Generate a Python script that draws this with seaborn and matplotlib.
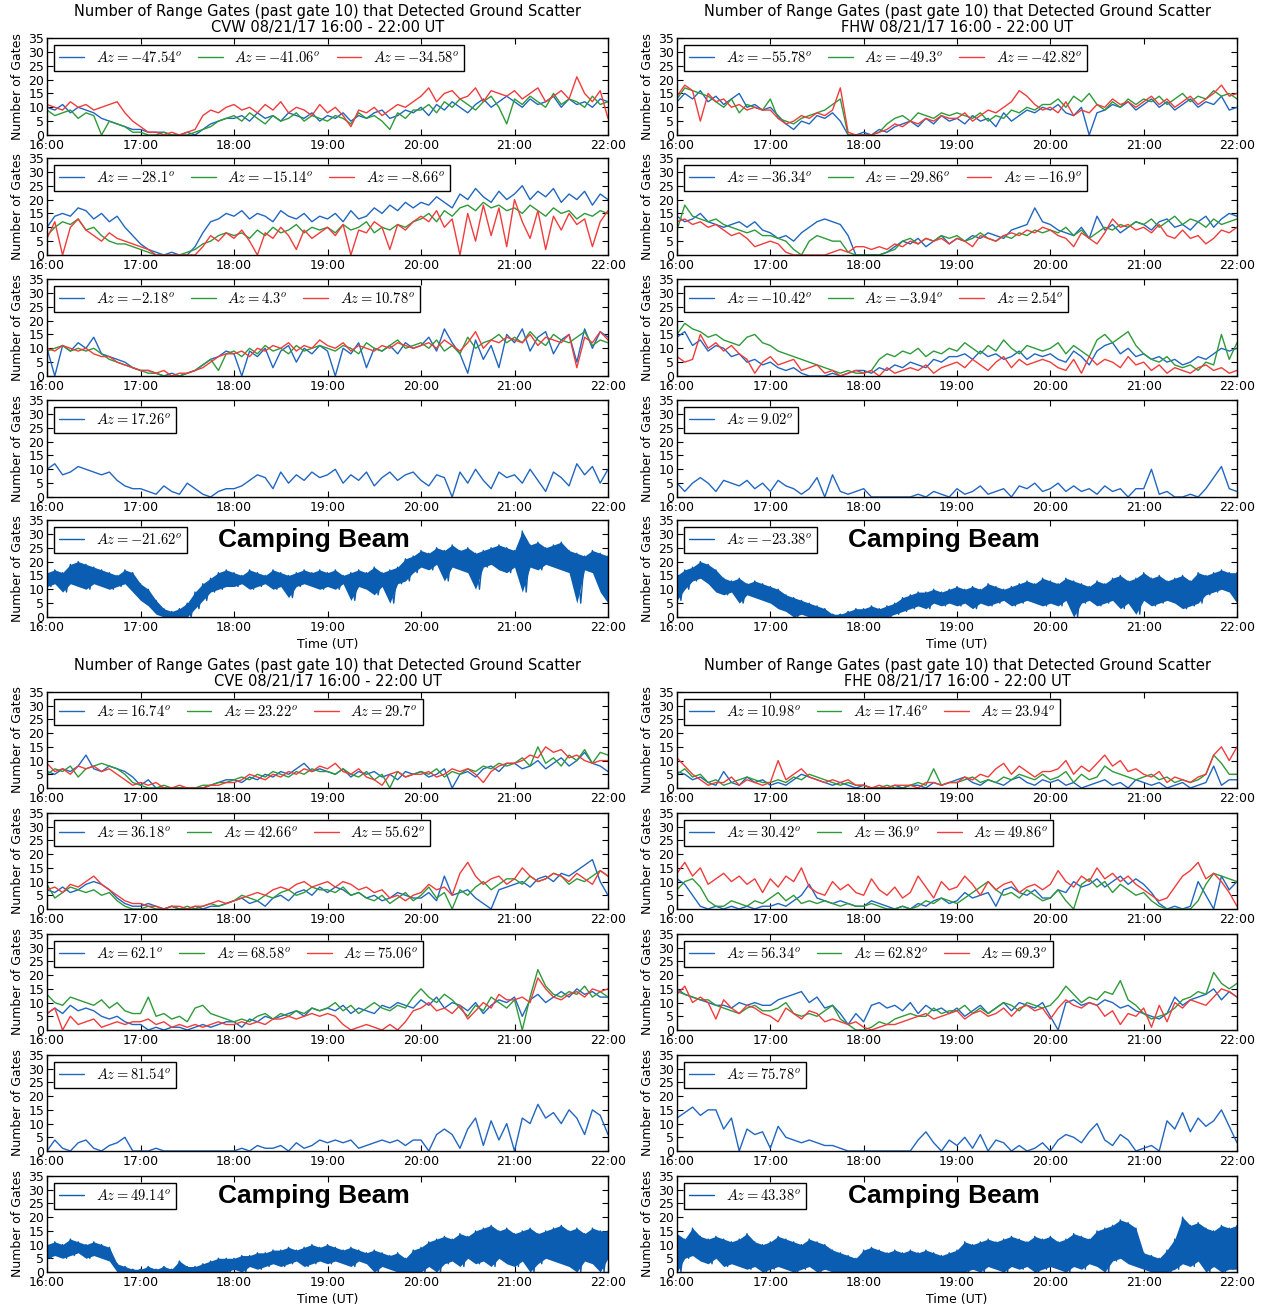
import numpy as np
import pandas as pd
import matplotlib
matplotlib.use('Agg')
import matplotlib.pyplot as plt
import matplotlib.dates as mdates
import seaborn as sns

# ---------------------------------------------------------------------------
# Data: number of gates per beam, every 5 minutes
# (16:00 ... 22:00, 73 samples; one line per hour + the 22:00 value)
# ---------------------------------------------------------------------------

# ---- CVW ----
cvw_az = [['-47.54', '-41.06', '-34.58'], ['-28.1', '-15.14', '-8.66'],
          ['-2.18', '4.3', '10.78'], ['17.26'], ['-21.62']]
cvw_r1_b = [10, 9, 11, 8, 10, 9, 8, 6, 5, 4, 3, 2,
            2, 1, 1, 1, 0, 0, 1, 0, 2, 4, 5, 6,
            6, 7, 5, 8, 6, 7, 5, 8, 7, 6, 8, 5,
            7, 6, 8, 5, 7, 6, 8, 9, 6, 7, 9, 8,
            10, 7, 11, 9, 12, 10, 8, 11, 13, 10, 12, 14,
            12, 10, 13, 11, 12, 14, 10, 13, 11, 12, 10, 13, 12]
cvw_r1_g = [9, 7, 8, 9, 6, 8, 7, 0, 5, 4, 3, 1,
            1, 0, 0, 1, 0, 0, 0, 1, 2, 3, 5, 6,
            7, 5, 8, 6, 4, 7, 5, 6, 8, 5, 7, 6,
            5, 7, 6, 4, 8, 6, 7, 5, 2, 8, 6, 9,
            9, 11, 8, 12, 10, 13, 11, 9, 12, 14, 10, 4,
            13, 11, 14, 12, 10, 15, 11, 13, 12, 10, 14, 11, 12]
cvw_r1_r = [11, 10, 9, 12, 10, 11, 9, 10, 11, 12, 8, 5,
            3, 1, 1, 0, 1, 0, 1, 2, 7, 9, 8, 10,
            11, 9, 10, 8, 11, 9, 12, 8, 10, 9, 7, 11,
            8, 10, 7, 3, 9, 8, 10, 7, 9, 11, 10, 12,
            14, 17, 12, 15, 16, 13, 14, 17, 12, 16, 15, 14,
            16, 13, 15, 17, 12, 14, 16, 13, 21, 15, 12, 16, 6]
cvw_r2_b = [10, 14, 15, 14, 17, 16, 13, 15, 12, 14, 10, 7,
            4, 2, 1, 0, 1, 0, 0, 3, 8, 12, 13, 15,
            14, 16, 13, 15, 14, 12, 16, 14, 13, 15, 12, 14,
            13, 15, 12, 16, 13, 14, 17, 15, 18, 16, 19, 17,
            19, 18, 21, 19, 17, 22, 20, 24, 21, 19, 23, 20,
            22, 25, 20, 23, 21, 24, 19, 22, 20, 23, 18, 22, 20]
cvw_r2_g = [7, 10, 12, 11, 13, 9, 10, 7, 5, 4, 4, 3,
            2, 1, 0, 0, 0, 0, 1, 2, 4, 5, 7, 8,
            7, 8, 6, 9, 7, 10, 8, 9, 11, 8, 10, 9,
            10, 8, 11, 9, 10, 12, 8, 10, 9, 11, 10, 12,
            13, 15, 12, 16, 14, 17, 18, 16, 19, 17, 18, 16,
            17, 15, 18, 16, 14, 17, 15, 16, 13, 15, 14, 16, 15]
cvw_r2_r = [6, 12, 0, 10, 13, 9, 7, 5, 8, 6, 5, 4,
            3, 2, 0, 0, 0, 0, 0, 0, 3, 7, 5, 8,
            6, 9, 5, 0, 8, 6, 10, 7, 2, 9, 6, 8,
            10, 7, 11, 0, 9, 8, 12, 10, 2, 11, 9, 12,
            14, 12, 16, 10, 13, 0, 15, 5, 18, 7, 17, 3,
            20, 12, 6, 16, 2, 14, 9, 15, 11, 13, 3, 12, 16]
cvw_r3_b = [10, 0, 11, 9, 12, 10, 14, 8, 7, 6, 5, 3,
            2, 2, 1, 0, 1, 0, 1, 2, 4, 6, 7, 9,
            8, 0, 9, 7, 10, 3, 9, 11, 5, 10, 8, 11,
            9, 0, 10, 8, 12, 3, 10, 9, 11, 8, 12, 10,
            11, 14, 9, 17, 12, 8, 1, 13, 6, 11, 3, 15,
            12, 17, 9, 14, 16, 8, 13, 15, 5, 17, 10, 16, 14]
cvw_r3_g = [9, 10, 11, 9, 10, 9, 10, 8, 6, 5, 4, 3,
            2, 1, 1, 0, 0, 0, 1, 2, 4, 6, 2, 8,
            9, 7, 10, 8, 11, 9, 10, 8, 11, 9, 10, 11,
            10, 9, 11, 10, 8, 12, 10, 9, 11, 13, 10, 11,
            12, 10, 13, 9, 11, 8, 14, 10, 12, 13, 15, 12,
            14, 12, 16, 13, 11, 15, 13, 12, 14, 16, 11, 13, 12]
cvw_r3_r = [10, 9, 11, 10, 9, 10, 8, 7, 7, 5, 4, 3,
            2, 2, 1, 2, 0, 1, 1, 2, 3, 5, 7, 8,
            8, 9, 7, 10, 9, 11, 10, 12, 9, 11, 10, 13,
            11, 10, 12, 9, 11, 10, 9, 11, 10, 12, 11, 10,
            11, 12, 10, 13, 11, 9, 12, 16, 10, 13, 12, 14,
            13, 12, 15, 11, 14, 13, 12, 15, 3, 14, 12, 16, 13]
cvw_r4_b = [10, 12, 8, 9, 11, 10, 9, 8, 9, 6, 4, 3,
            3, 2, 1, 4, 2, 1, 5, 3, 1, 0, 2, 3,
            3, 4, 6, 8, 7, 3, 9, 5, 8, 6, 9, 7,
            8, 10, 5, 8, 6, 9, 4, 7, 9, 6, 8, 9,
            6, 4, 8, 7, 0, 9, 5, 10, 6, 3, 9, 7,
            8, 5, 10, 6, 2, 9, 7, 4, 12, 8, 11, 5, 10]
cvw_camp_hi = [16, 17, 16, 19, 20, 19, 18, 17, 16, 15, 17, 16,
               12, 10, 6, 3, 2, 3, 5, 9, 12, 14, 16, 17,
               16, 15, 17, 16, 15, 17, 16, 15, 16, 17, 16, 17,
               16, 17, 15, 16, 17, 16, 18, 16, 17, 18, 21, 22,
               24, 23, 25, 24, 26, 24, 25, 23, 24, 25, 26, 25,
               24, 31, 26, 27, 25, 26, 27, 24, 23, 22, 24, 23, 22]
cvw_camp_lo = [11, 12, 9, 12, 11, 10, 12, 11, 10, 11, 12, 9,
               6, 4, 1, 0, 0, 0, 0, 3, 6, 9, 10, 11,
               11, 12, 10, 11, 12, 10, 11, 7, 11, 12, 11, 10,
               11, 10, 12, 6, 11, 10, 8, 11, 5, 12, 13, 16,
               18, 17, 19, 13, 18, 17, 16, 10, 18, 19, 17, 16,
               18, 9, 18, 17, 19, 18, 17, 16, 5, 17, 16, 9, 5]

# ---- FHW ----
fhw_az = [['-55.78', '-49.3', '-42.82'], ['-36.34', '-29.86', '-16.9'],
          ['-10.42', '-3.94', '2.54'], ['9.02'], ['-23.38']]
fhw_r1_b = [12, 15, 13, 16, 12, 14, 11, 13, 15, 10, 11, 9,
            10, 7, 4, 2, 5, 4, 7, 6, 8, 5, 0, 0,
            1, 0, 2, 1, 3, 4, 5, 3, 6, 4, 7, 5,
            6, 4, 7, 5, 6, 3, 8, 5, 7, 9, 8, 10,
            9, 11, 8, 7, 10, 0, 8, 9, 11, 10, 12, 9,
            11, 13, 10, 12, 9, 11, 13, 10, 12, 11, 14, 9, 10]
fhw_r1_g = [13, 17, 16, 15, 14, 12, 10, 13, 8, 11, 10, 9,
            13, 6, 5, 4, 6, 7, 8, 9, 11, 13, 0, 0,
            0, 0, 1, 4, 6, 7, 5, 8, 7, 6, 8, 7,
            8, 7, 6, 8, 5, 7, 6, 9, 8, 10, 9, 11,
            11, 13, 10, 14, 12, 15, 11, 9, 12, 10, 13, 11,
            13, 12, 14, 11, 13, 15, 12, 14, 13, 16, 14, 15, 13]
fhw_r1_r = [14, 18, 16, 5, 15, 12, 13, 10, 11, 9, 10, 9,
            9, 6, 4, 5, 7, 6, 8, 7, 9, 17, 1, 0,
            0, 0, 1, 2, 4, 3, 5, 4, 6, 5, 7, 6,
            6, 8, 5, 7, 9, 8, 10, 12, 16, 14, 11, 9,
            10, 8, 12, 7, 9, 8, 11, 10, 13, 11, 12, 10,
            12, 14, 11, 13, 10, 12, 14, 11, 13, 15, 18, 14, 15]
fhw_r2_b = [14, 12, 13, 15, 12, 11, 10, 11, 12, 10, 12, 9,
            8, 6, 7, 5, 8, 10, 12, 13, 12, 11, 7, 0,
            0, 0, 0, 1, 3, 5, 4, 6, 3, 5, 7, 4,
            6, 5, 7, 6, 8, 7, 6, 9, 10, 11, 17, 12,
            11, 9, 8, 7, 10, 6, 14, 9, 11, 8, 10, 12,
            11, 9, 12, 13, 10, 11, 9, 12, 14, 10, 13, 15, 14]
fhw_r2_g = [9, 18, 14, 13, 12, 13, 11, 10, 9, 8, 9, 7,
            7, 6, 5, 2, 0, 5, 7, 6, 5, 5, 1, 0,
            0, 0, 0, 1, 2, 5, 6, 4, 6, 5, 7, 6,
            7, 5, 6, 8, 6, 5, 7, 6, 8, 7, 9, 8,
            9, 8, 10, 7, 9, 6, 8, 10, 9, 11, 10, 12,
            11, 13, 10, 12, 14, 11, 13, 12, 10, 13, 11, 12, 13]
fhw_r2_r = [12, 13, 11, 12, 10, 11, 9, 7, 8, 6, 3, 4,
            5, 4, 1, 0, 0, 0, 0, 0, 1, 2, 1, 3,
            3, 2, 3, 2, 4, 3, 5, 4, 6, 5, 6, 4,
            6, 5, 3, 7, 6, 5, 7, 8, 7, 9, 8, 10,
            9, 7, 6, 3, 8, 6, 4, 8, 13, 10, 11, 9,
            10, 8, 11, 7, 6, 9, 6, 7, 4, 6, 9, 8, 10]
fhw_r3_b = [14, 16, 11, 13, 9, 11, 10, 7, 8, 5, 6, 4,
            5, 3, 2, 3, 1, 0, 0, 0, 1, 0, 1, 2,
            2, 1, 3, 2, 4, 3, 5, 4, 3, 6, 5, 7,
            7, 8, 6, 9, 7, 8, 6, 7, 9, 6, 8, 7,
            8, 6, 5, 9, 7, 4, 9, 11, 12, 8, 10, 7,
            8, 6, 7, 5, 6, 4, 5, 7, 6, 8, 10, 9, 10]
fhw_r3_g = [15, 19, 17, 16, 14, 15, 13, 12, 11, 14, 15, 12,
            11, 9, 8, 7, 6, 5, 4, 3, 2, 1, 2, 1,
            1, 2, 6, 8, 7, 9, 8, 10, 7, 9, 8, 10,
            9, 12, 10, 8, 11, 9, 13, 10, 8, 11, 10, 9,
            10, 12, 8, 11, 9, 7, 13, 15, 12, 14, 16, 11,
            8, 6, 5, 7, 4, 3, 4, 2, 5, 4, 15, 6, 12]
fhw_r3_r = [7, 5, 6, 15, 10, 12, 9, 11, 8, 6, 1, 5,
            7, 4, 5, 6, 2, 3, 4, 1, 2, 0, 1, 2,
            1, 2, 0, 3, 1, 2, 3, 2, 4, 1, 3, 4,
            5, 3, 6, 4, 2, 5, 7, 3, 6, 4, 5, 6,
            5, 3, 2, 6, 1, 7, 4, 6, 5, 3, 7, 4,
            5, 2, 4, 1, 3, 2, 1, 3, 4, 2, 3, 1, 2]
fhw_r4_b = [5, 2, 5, 7, 5, 2, 6, 5, 4, 6, 3, 5,
            2, 6, 4, 3, 1, 3, 7, 0, 8, 2, 1, 2,
            3, 0, 0, 0, 0, 0, 0, 1, 0, 2, 1, 0,
            3, 1, 2, 4, 1, 2, 3, 0, 4, 3, 5, 2,
            3, 5, 2, 4, 2, 3, 1, 4, 2, 3, 0, 3,
            3, 10, 1, 2, 0, 0, 1, 0, 3, 7, 11, 3, 2]
fhw_camp_hi = [15, 17, 18, 20, 19, 17, 14, 13, 14, 12, 13, 12,
               11, 10, 8, 7, 6, 5, 4, 3, 1, 1, 2, 3,
               3, 4, 3, 4, 5, 7, 8, 9, 9, 10, 9, 10,
               11, 10, 11, 10, 12, 11, 10, 11, 12, 13, 12, 14,
               13, 12, 14, 13, 12, 11, 13, 12, 14, 15, 13, 14,
               16, 14, 15, 13, 14, 15, 13, 16, 15, 16, 17, 16, 16]
fhw_camp_lo = [6, 10, 13, 14, 12, 9, 8, 9, 5, 8, 7, 6,
               5, 3, 2, 0, 1, 0, 0, 0, 0, 0, 0, 0,
               0, 0, 0, 0, 1, 2, 3, 4, 3, 5, 4, 5,
               4, 5, 3, 5, 4, 5, 6, 4, 5, 6, 5, 4,
               5, 4, 6, 0, 5, 6, 4, 5, 6, 3, 5, 1,
               6, 4, 5, 6, 5, 3, 4, 5, 8, 9, 10, 9, 5]

# ---- CVE ----
cve_az = [['16.74', '23.22', '29.7'], ['36.18', '42.66', '55.62'],
          ['62.1', '68.58', '75.06'], ['81.54'], ['49.14']]
cve_r1_b = [6, 5, 7, 6, 8, 12, 7, 6, 8, 7, 6, 4,
            1, 3, 0, 0, 0, 0, 0, 0, 0, 1, 2, 3,
            3, 2, 4, 3, 5, 4, 6, 5, 7, 9, 6, 7,
            6, 5, 7, 4, 6, 5, 6, 4, 5, 3, 6, 5,
            6, 4, 5, 7, 0, 5, 6, 4, 7, 8, 6, 9,
            9, 7, 8, 10, 7, 9, 11, 8, 10, 13, 9, 8, 6]
cve_r1_g = [5, 7, 6, 8, 4, 7, 8, 9, 8, 7, 5, 2,
            1, 0, 0, 1, 0, 0, 0, 0, 1, 1, 2, 2,
            3, 4, 3, 5, 4, 6, 5, 4, 6, 5, 7, 6,
            6, 5, 7, 5, 4, 6, 3, 5, 0, 6, 4, 5,
            6, 5, 7, 4, 6, 5, 7, 6, 8, 7, 9, 8,
            9, 11, 8, 15, 9, 11, 8, 12, 10, 14, 9, 13, 12]
cve_r1_r = [9, 6, 7, 5, 8, 7, 8, 6, 7, 5, 3, 1,
            2, 1, 2, 0, 0, 1, 0, 0, 0, 1, 1, 2,
            2, 3, 5, 4, 3, 5, 4, 6, 5, 7, 6, 8,
            7, 9, 6, 5, 7, 4, 3, 1, 5, 6, 4, 5,
            5, 6, 4, 5, 7, 6, 7, 5, 2, 6, 8, 9,
            9, 10, 12, 11, 15, 13, 14, 11, 12, 10, 9, 10, 10]
cve_r2_b = [7, 6, 8, 6, 7, 9, 10, 9, 7, 4, 2, 1,
            1, 2, 1, 0, 1, 0, 0, 1, 0, 1, 1, 2,
            3, 4, 2, 3, 1, 4, 5, 3, 6, 7, 5, 8,
            6, 8, 7, 5, 6, 4, 5, 3, 4, 6, 5, 4,
            4, 6, 3, 12, 5, 6, 7, 4, 2, 0, 7, 8,
            9, 10, 8, 11, 12, 10, 13, 12, 14, 16, 18, 10, 5]
cve_r2_g = [9, 4, 6, 8, 7, 6, 7, 5, 6, 3, 1, 0,
            0, 1, 0, 0, 1, 0, 1, 0, 1, 2, 1, 2,
            3, 5, 4, 3, 5, 4, 6, 7, 5, 6, 8, 7,
            7, 6, 8, 5, 6, 4, 3, 5, 2, 4, 6, 3,
            5, 8, 4, 6, 0, 7, 5, 8, 10, 7, 9, 11,
            11, 9, 12, 10, 11, 13, 12, 9, 11, 10, 12, 14, 12]
cve_r2_r = [7, 8, 6, 9, 8, 10, 12, 9, 7, 5, 3, 2,
            2, 1, 1, 0, 1, 1, 0, 1, 1, 2, 3, 2,
            3, 4, 5, 6, 5, 7, 8, 7, 9, 10, 8, 9,
            10, 8, 10, 9, 7, 8, 6, 7, 4, 5, 3, 5,
            6, 9, 7, 8, 5, 13, 17, 12, 9, 11, 12, 9,
            11, 15, 12, 10, 11, 13, 12, 10, 13, 11, 9, 14, 12]
cve_r3_b = [6, 8, 6, 9, 7, 8, 7, 5, 4, 5, 3, 2,
            2, 0, 1, 0, 1, 1, 0, 1, 2, 1, 2, 3,
            3, 1, 4, 3, 5, 4, 5, 6, 7, 5, 8, 7,
            8, 7, 9, 6, 8, 7, 6, 9, 8, 10, 9, 8,
            11, 9, 12, 8, 10, 9, 7, 10, 6, 9, 11, 10,
            12, 5, 11, 13, 10, 12, 14, 12, 15, 13, 14, 12, 12]
cve_r3_g = [13, 10, 9, 12, 11, 10, 9, 11, 8, 10, 7, 6,
            6, 12, 5, 6, 4, 5, 3, 8, 9, 6, 5, 4,
            3, 4, 3, 5, 6, 4, 6, 5, 7, 6, 8, 7,
            8, 10, 7, 9, 6, 8, 10, 8, 7, 9, 8, 12,
            15, 12, 10, 13, 11, 8, 5, 9, 7, 12, 10, 8,
            11, 0, 12, 22, 16, 13, 12, 14, 13, 16, 12, 14, 12]
cve_r3_r = [6, 8, 0, 5, 2, 3, 4, 1, 2, 3, 2, 3,
            3, 4, 2, 3, 1, 2, 1, 2, 1, 2, 3, 2,
            2, 3, 2, 3, 2, 4, 4, 5, 4, 5, 6, 5,
            6, 5, 2, 0, 1, 2, 1, 0, 2, 0, 3, 7,
            8, 10, 7, 8, 6, 9, 4, 7, 10, 8, 13, 11,
            11, 12, 10, 19, 15, 12, 11, 13, 14, 12, 15, 14, 15]
cve_r4_b = [0, 4, 1, 0, 3, 4, 1, 0, 2, 3, 5, 0,
            0, 0, 1, 0, 0, 0, 0, 0, 0, 0, 0, 0,
            0, 1, 0, 2, 1, 1, 2, 0, 3, 1, 2, 4,
            3, 4, 3, 4, 1, 2, 3, 4, 3, 4, 2, 4,
            4, 0, 6, 8, 6, 1, 8, 12, 2, 11, 4, 10,
            0, 12, 10, 17, 12, 14, 10, 15, 12, 6, 15, 13, 6]
cve_camp_hi = [10, 11, 10, 12, 11, 10, 11, 10, 9, 3, 2, 1,
               1, 2, 1, 2, 1, 4, 2, 2, 3, 4, 5, 5,
               5, 6, 6, 7, 7, 8, 8, 9, 8, 9, 10, 9,
               10, 9, 8, 9, 8, 7, 8, 7, 6, 7, 5, 8,
               9, 11, 12, 13, 12, 14, 13, 15, 16, 17, 15, 16,
               14, 15, 16, 14, 15, 16, 17, 15, 16, 14, 16, 15, 15]
cve_camp_lo = [5, 6, 5, 6, 7, 5, 6, 5, 4, 0, 0, 0,
               0, 0, 0, 0, 0, 0, 0, 0, 0, 0, 0, 0,
               1, 0, 2, 1, 2, 3, 2, 3, 4, 2, 3, 4,
               3, 4, 3, 2, 4, 3, 0, 2, 1, 0, 0, 0,
               0, 2, 0, 3, 4, 2, 5, 3, 4, 2, 5, 3,
               2, 4, 0, 3, 5, 4, 3, 2, 0, 4, 3, 0, 5]

# ---- FHE ----
fhe_az = [['10.98', '17.46', '23.94'], ['30.42', '36.9', '49.86'],
          ['56.34', '62.82', '69.3'], ['75.78'], ['43.38']]
fhe_r1_b = [6, 5, 3, 4, 2, 1, 6, 2, 1, 4, 2, 3,
            1, 2, 1, 3, 5, 4, 3, 2, 1, 2, 1, 0,
            1, 0, 0, 0, 1, 0, 1, 1, 0, 2, 1, 2,
            3, 4, 2, 1, 3, 2, 1, 3, 4, 2, 1, 3,
            2, 3, 1, 2, 0, 1, 2, 3, 1, 2, 0, 3,
            2, 1, 2, 0, 1, 2, 0, 1, 2, 8, 1, 3, 3]
fhe_r1_g = [5, 7, 4, 5, 2, 3, 1, 2, 3, 4, 3, 2,
            2, 3, 2, 4, 3, 5, 4, 3, 2, 1, 2, 1,
            1, 0, 0, 1, 0, 0, 1, 2, 1, 7, 1, 2,
            2, 3, 4, 2, 3, 2, 4, 3, 5, 4, 3, 5,
            3, 4, 6, 2, 5, 3, 4, 8, 6, 5, 4, 3,
            4, 5, 3, 4, 2, 3, 2, 3, 5, 12, 9, 5, 5]
fhe_r1_r = [11, 8, 5, 3, 1, 2, 2, 4, 1, 3, 2, 1,
            2, 10, 3, 5, 7, 4, 3, 2, 3, 2, 3, 1,
            1, 0, 1, 0, 1, 1, 1, 0, 2, 2, 1, 2,
            2, 4, 3, 5, 4, 7, 9, 5, 8, 6, 4, 6,
            6, 7, 10, 5, 8, 6, 9, 12, 8, 10, 6, 7,
            5, 4, 6, 2, 4, 3, 2, 4, 5, 12, 15, 10, 15]
fhe_r2_b = [11, 9, 5, 1, 0, 1, 0, 1, 0, 1, 0, 1,
            1, 2, 1, 3, 5, 9, 4, 3, 2, 3, 2, 1,
            1, 3, 2, 1, 0, 1, 0, 2, 1, 3, 4, 2,
            3, 6, 4, 5, 6, 1, 7, 8, 6, 5, 7, 4,
            4, 7, 6, 10, 8, 9, 11, 8, 10, 12, 9, 11,
            9, 6, 2, 0, 1, 0, 1, 10, 5, 0, 12, 7, 10]
fhe_r2_g = [7, 10, 11, 8, 3, 1, 1, 3, 2, 1, 3, 2,
            4, 6, 3, 5, 2, 3, 2, 3, 2, 1, 2, 1,
            1, 2, 1, 0, 0, 1, 0, 1, 3, 2, 4, 3,
            2, 4, 6, 8, 10, 7, 5, 6, 4, 7, 5, 3,
            4, 7, 3, 0, 9, 11, 8, 10, 6, 9, 7, 5,
            6, 3, 1, 0, 0, 0, 0, 3, 9, 13, 12, 11, 10]
fhe_r2_r = [13, 17, 12, 15, 9, 11, 13, 10, 12, 9, 11, 6,
            11, 8, 12, 10, 15, 8, 6, 5, 10, 7, 9, 6,
            5, 11, 7, 5, 8, 4, 6, 12, 8, 4, 10, 7,
            8, 12, 9, 5, 10, 7, 9, 10, 6, 8, 9, 7,
            9, 14, 10, 8, 12, 10, 15, 11, 13, 10, 12, 9,
            7, 5, 3, 4, 8, 12, 14, 17, 11, 13, 10, 6, 1]
fhe_r3_b = [15, 13, 12, 11, 10, 9, 9, 8, 10, 9, 10, 9,
            9, 11, 12, 13, 14, 10, 12, 8, 9, 6, 2, 6,
            3, 9, 10, 8, 9, 7, 10, 6, 9, 7, 8, 6,
            8, 5, 7, 9, 6, 8, 10, 7, 10, 9, 8, 10,
            5, 0, 10, 11, 9, 10, 9, 11, 10, 8, 9, 7,
            6, 5, 4, 6, 12, 9, 11, 12, 13, 15, 11, 14, 12]
fhe_r3_g = [14, 13, 12, 11, 11, 9, 8, 7, 6, 8, 9, 7,
            7, 8, 10, 6, 5, 6, 5, 7, 9, 4, 2, 0,
            0, 1, 3, 2, 4, 5, 6, 5, 5, 8, 6, 7,
            7, 9, 6, 8, 6, 8, 10, 9, 7, 10, 9, 8,
            9, 12, 16, 13, 10, 12, 11, 14, 13, 18, 11, 9,
            6, 4, 5, 6, 8, 11, 12, 14, 13, 21, 17, 15, 17]
fhe_r3_r = [13, 16, 10, 12, 10, 4, 11, 8, 6, 9, 8, 6,
            5, 3, 8, 6, 4, 7, 6, 3, 4, 3, 2, 3,
            1, 0, 1, 2, 2, 3, 4, 5, 6, 4, 5, 6,
            7, 4, 6, 7, 5, 6, 8, 5, 8, 9, 7, 8,
            4, 8, 11, 9, 8, 10, 9, 5, 7, 2, 6, 5,
            8, 1, 9, 3, 10, 8, 11, 10, 9, 12, 15, 14, 12]
fhe_r4_b = [12, 14, 16, 13, 15, 15, 8, 12, 0, 8, 6, 7,
            1, 9, 5, 4, 3, 4, 3, 2, 2, 1, 0, 0,
            0, 0, 0, 0, 0, 0, 0, 4, 7, 3, 0, 4,
            2, 5, 1, 6, 0, 4, 3, 0, 2, 0, 1, 3,
            0, 4, 6, 5, 3, 7, 10, 4, 2, 6, 4, 0,
            1, 2, 0, 11, 8, 14, 7, 12, 9, 11, 15, 9, 3]
fhe_camp_hi = [14, 12, 16, 13, 12, 13, 12, 11, 12, 14, 11, 10,
               11, 13, 12, 11, 10, 12, 11, 10, 8, 7, 6, 5,
               8, 9, 8, 7, 8, 7, 8, 7, 8, 7, 6, 7,
               8, 11, 10, 11, 12, 11, 12, 13, 12, 11, 13, 12,
               13, 11, 12, 14, 13, 12, 15, 16, 17, 19, 18, 16,
               7, 6, 5, 8, 12, 20, 17, 18, 16, 15, 17, 16, 17]
fhe_camp_lo = [0, 5, 6, 4, 3, 5, 2, 3, 2, 1, 2, 0,
               1, 2, 1, 0, 1, 2, 0, 1, 0, 0, 0, 0,
               0, 0, 0, 0, 0, 0, 0, 0, 0, 0, 0, 0,
               0, 0, 1, 0, 2, 1, 0, 2, 1, 2, 0, 1,
               2, 1, 0, 2, 1, 3, 2, 0, 4, 5, 3, 2,
               1, 0, 0, 0, 1, 3, 2, 4, 0, 2, 0, 1, 1]

TITLE = 'Number of Range Gates (past gate 10) that Detected Ground Scatter'
COLORS = ['#2166c0', '#2f9a3a', '#f03c3c']
CAMP_COLOR = '#0b5db2'

times = pd.date_range('2017-08-21 16:00', '2017-08-21 22:00', freq='5min')

sns.set_style('ticks')
plt.rcParams['font.family'] = ['DejaVu Sans']
plt.rcParams['mathtext.fontset'] = 'cm'
for key in ['text.color', 'axes.labelcolor', 'xtick.color', 'ytick.color']:
    plt.rcParams[key] = 'black'

W, H = 1261, 1308
fig = plt.figure(figsize=(W / 100, H / 100), dpi=100)


def az_label(az):
    return r'$Az=%s^o$' % az


def camp_series(hi, lo):
    # alternate the upper / lower values to draw the dense camping-beam trace
    t = np.empty(2 * len(times), dtype='datetime64[ns]')
    t[0::2] = times.values
    t[1::2] = (times + pd.Timedelta(seconds=150)).values
    v = np.empty(2 * len(times))
    v[0::2] = hi
    v[1::2] = lo
    return t, v


def style_axis(ax, last):
    ax.set_ylim(0, 35)
    ax.set_yticks(range(0, 36, 5))
    ax.set_xlim(times[0], times[-1])
    ax.xaxis.set_major_locator(mdates.HourLocator())
    ax.xaxis.set_major_formatter(mdates.DateFormatter('%H:%M'))
    ax.tick_params(direction='in', top=True, right=True, labelsize=9,
                   length=4, width=0.8, pad=2)
    ax.tick_params(axis='x', pad=3)
    ax.set_ylabel('Number of Gates', fontsize=9, labelpad=3)
    ax.set_xlabel('Time (UT)' if last else '', fontsize=9, labelpad=3)
    for s in ax.spines.values():
        s.set_linewidth(1)
        s.set_color('black')


def draw_panel(x0, x1, tops, height, name, az, rows, camp):
    axes = []
    for i, top in enumerate(tops):
        ax = fig.add_axes([x0 / W, 1 - (top + height) / H,
                           (x1 - x0) / W, height / H])
        if i < 4:
            for j, vals in enumerate(rows[i]):
                sns.lineplot(x=times, y=vals, ax=ax, color=COLORS[j],
                             linewidth=1, label=az_label(az[i][j]))
        else:
            hi, lo = camp
            ax.fill_between(times, lo, hi, color=CAMP_COLOR, linewidth=0)
            t, v = camp_series(hi, lo)
            sns.lineplot(x=t, y=v, ax=ax, color=CAMP_COLOR, linewidth=1,
                         label=az_label(az[4][0]), sort=False)
            ax.text(0.305, 0.79, 'Camping Beam', transform=ax.transAxes,
                    fontsize=19, fontweight='bold', family='Liberation Sans',
                    color='black', ha='left', va='center')
        style_axis(ax, i == 4)
        leg = ax.legend(loc='upper left', ncol=3, fontsize=10.5, frameon=True,
                        fancybox=False, edgecolor='black', framealpha=1,
                        handlelength=1.7, columnspacing=1.1, borderaxespad=0.5,
                        borderpad=0.35)
        leg.get_frame().set_linewidth(1)
        axes.append(ax)
    axes[0].set_title(TITLE + '\n' + name + ' 08/21/17 16:00 - 22:00 UT',
                      fontsize=10.5, pad=4, linespacing=1.1)
    return axes


top_rows = [38, 158, 279, 400, 520]
bot_rows = [692, 813, 934, 1055, 1176]

draw_panel(47, 608, top_rows, 97, 'CVW', cvw_az,
           [[cvw_r1_b, cvw_r1_g, cvw_r1_r], [cvw_r2_b, cvw_r2_g, cvw_r2_r],
            [cvw_r3_b, cvw_r3_g, cvw_r3_r], [cvw_r4_b]],
           (cvw_camp_hi, cvw_camp_lo))
draw_panel(677, 1237, top_rows, 97, 'FHW', fhw_az,
           [[fhw_r1_b, fhw_r1_g, fhw_r1_r], [fhw_r2_b, fhw_r2_g, fhw_r2_r],
            [fhw_r3_b, fhw_r3_g, fhw_r3_r], [fhw_r4_b]],
           (fhw_camp_hi, fhw_camp_lo))
draw_panel(47, 608, bot_rows, 96, 'CVE', cve_az,
           [[cve_r1_b, cve_r1_g, cve_r1_r], [cve_r2_b, cve_r2_g, cve_r2_r],
            [cve_r3_b, cve_r3_g, cve_r3_r], [cve_r4_b]],
           (cve_camp_hi, cve_camp_lo))
draw_panel(677, 1237, bot_rows, 96, 'FHE', fhe_az,
           [[fhe_r1_b, fhe_r1_g, fhe_r1_r], [fhe_r2_b, fhe_r2_g, fhe_r2_r],
            [fhe_r3_b, fhe_r3_g, fhe_r3_r], [fhe_r4_b]],
           (fhe_camp_hi, fhe_camp_lo))

fig.savefig('out.png', dpi=100)
